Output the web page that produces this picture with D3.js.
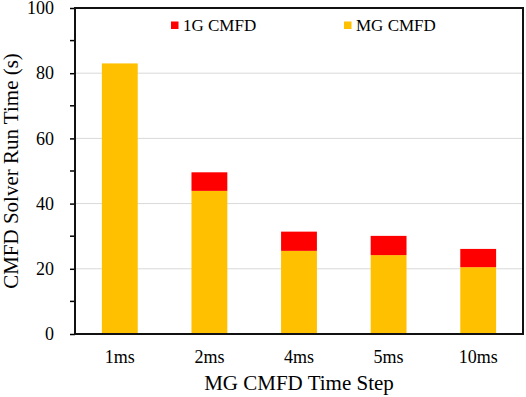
<!DOCTYPE html>
<html>
<head>
<meta charset="utf-8">
<script src="https://cdn.jsdelivr.net/npm/d3@7"></script>
<style>
  body { margin: 0; background: #fff; }
  svg text { font-family: "Liberation Serif", "Times New Roman", serif; fill: #000; }
</style>
</head>
<body>
<div id="chart-area"></div>
<script>
var categories = ["1ms", "2ms", "4ms", "5ms", "10ms"];
var mgValues = [83.0, 43.9, 25.5, 24.2, 20.5];
var oneGValues = [0, 5.7, 5.9, 5.9, 5.6];
var seriesNames = ["1G CMFD", "MG CMFD"];
var seriesColors = ["#ff0000", "#ffc000"];
var majorTicks = [0, 20, 40, 60, 80, 100];
var minorTicks = [10, 30, 50, 70, 90];

var width = 526,
    height = 397;

var margin = {left: 75, right: 3, top: 8, bottom: 63};

var svg = d3.select("#chart-area").append("svg")
    .attr("width", width)
    .attr("height", height);

var x = d3.scaleBand()
    .domain(categories)
    .range([margin.left, width - margin.right])
    .paddingInner(0.6)
    .paddingOuter(0.3);

var y = d3.scaleLinear()
    .domain([0, 100])
    .range([height - margin.bottom, margin.top]);

// gridlines
svg.selectAll(".grid")
    .data(majorTicks.filter(d => d > 0 && d < 100))
    .enter().append("line")
    .attr("class", "grid")
    .attr("x1", margin.left)
    .attr("x2", width - margin.right)
    .attr("y1", d => y(d))
    .attr("y2", d => y(d))
    .style("stroke", "#d9d9d9")
    .style("stroke-width", 1);

// stacked bars
var rows = categories.map(function(c, i) {
    return {cat: c, mg: mgValues[i], g1: oneGValues[i]};
});

svg.selectAll(".mg")
    .data(rows)
    .enter().append("rect")
    .attr("class", "mg")
    .attr("x", d => x(d.cat))
    .attr("width", x.bandwidth())
    .attr("y", d => y(d.mg))
    .attr("height", d => y(0) - y(d.mg))
    .style("fill", seriesColors[1]);

svg.selectAll(".g1")
    .data(rows.filter(d => d.g1 > 0))
    .enter().append("rect")
    .attr("class", "g1")
    .attr("x", d => x(d.cat))
    .attr("width", x.bandwidth())
    .attr("y", d => y(d.mg + d.g1))
    .attr("height", d => y(d.mg) - y(d.mg + d.g1))
    .style("fill", seriesColors[0]);

// y axis
var yAxis = d3.axisLeft(y)
    .tickValues(majorTicks)
    .tickSize(5)
    .tickPadding(16);

var yg = svg.append("g")
    .attr("transform", "translate(" + margin.left + ",0)")
    .call(yAxis)
    .attr("font-family", "Liberation Serif")
    .attr("font-size", 18);
yg.select(".domain").remove();
yg.selectAll("line").style("stroke", "#000").style("stroke-width", 1.5);

svg.selectAll(".minor")
    .data(minorTicks)
    .enter().append("line")
    .attr("class", "minor")
    .attr("x1", margin.left - 5)
    .attr("x2", margin.left)
    .attr("y1", d => y(d))
    .attr("y2", d => y(d))
    .style("stroke", "#000")
    .style("stroke-width", 1.5);

// x axis labels
var xAxis = d3.axisBottom(x)
    .tickSize(0)
    .tickPadding(16);

var xg = svg.append("g")
    .attr("transform", "translate(0," + y(0) + ")")
    .call(xAxis)
    .attr("font-family", "Liberation Serif")
    .attr("font-size", 18);
xg.select(".domain").remove();

// plot frame
svg.append("rect")
    .attr("x", margin.left)
    .attr("y", margin.top)
    .attr("width", width - margin.right - margin.left)
    .attr("height", y(0) - margin.top)
    .style("fill", "none")
    .style("stroke", "#111")
    .style("stroke-width", 2);

// axis titles
svg.append("text")
    .attr("x", (margin.left + width - margin.right) / 2)
    .attr("y", 390)
    .attr("text-anchor", "middle")
    .style("font-size", "21px")
    .text("MG CMFD Time Step");

svg.append("text")
    .attr("transform", "translate(18," + (margin.top + y(0)) / 2 + ") rotate(-90)")
    .attr("text-anchor", "middle")
    .style("font-size", "21px")
    .text("CMFD Solver Run Time (s)");

// legend
var legendX = [171, 344];
var legend = svg.selectAll(".legend")
    .data(seriesNames)
    .enter().append("g")
    .attr("class", "legend")
    .attr("transform", (d, i) => "translate(" + legendX[i] + ",0)");

legend.append("rect")
    .attr("x", 0)
    .attr("y", 21.5)
    .attr("width", 7.5)
    .attr("height", 7.5)
    .style("fill", (d, i) => seriesColors[i]);

legend.append("text")
    .attr("x", 12)
    .attr("y", 30.5)
    .style("font-size", "17px")
    .text(d => d);
</script>
</body>
</html>
